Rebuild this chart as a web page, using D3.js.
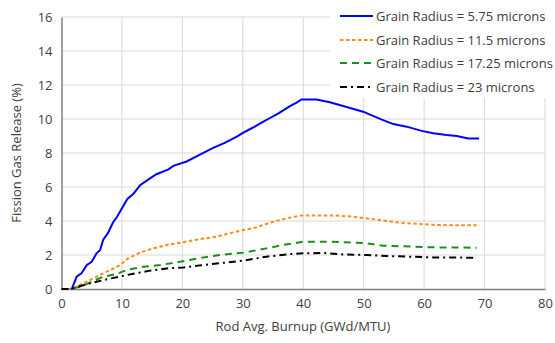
<!DOCTYPE html>
<html><head><meta charset="utf-8">
<script src="https://cdn.jsdelivr.net/npm/d3@7"></script>
<style>body{margin:0;background:#fff}svg{display:block}text{font-family:"Open Sans","Liberation Sans",sans-serif;fill:#404040}</style>
</head><body><svg id="c" width="555" height="343"></svg>
<script>
const seriesNames = ["Grain Radius = 5.75 microns","Grain Radius = 11.5 microns","Grain Radius = 17.25 microns","Grain Radius = 23 microns"];
const blue = [[0,0],[1.7,0],[2.5,0.72],[3.3,0.92],[4.2,1.41],[5,1.6],[5.8,2.1],[6.4,2.3],[6.9,2.9],[7.7,3.3],[8.5,3.9],[9.2,4.25],[10,4.75],[10.9,5.3],[11.9,5.6],[13,6.1],[14.4,6.45],[15.7,6.75],[17.7,7.04],[18.5,7.24],[20.7,7.5],[22.9,7.9],[25.1,8.3],[27,8.6],[29,8.96],[30.1,9.2],[31.7,9.5],[33.4,9.84],[34.2,10],[35.9,10.33],[37.8,10.76],[38.9,10.96],[39.7,11.15],[42.2,11.15],[44.4,10.98],[46.6,10.76],[49.9,10.43],[53,9.96],[54.9,9.7],[57.1,9.55],[59.6,9.3],[61.5,9.16],[63.7,9.06],[65.4,9.0],[67.3,8.86],[69.1,8.86]];
const orange = [[0,0],[1.5,0],[3.6,0.33],[5.3,0.63],[7.5,1.02],[9.7,1.41],[11,1.8],[13,2.14],[15.2,2.39],[17.4,2.59],[19.6,2.72],[22.9,2.93],[25.7,3.08],[28.4,3.33],[30.1,3.47],[32.3,3.63],[34.5,3.9],[37.3,4.16],[39.7,4.33],[45,4.33],[48.3,4.25],[52.7,4.06],[56,3.9],[59.3,3.82],[62.6,3.76],[66.5,3.75],[68.7,3.75]];
const green = [[0,0],[1.5,0],[3.6,0.2],[6.9,0.72],[9.1,0.88],[10.8,1.12],[13.5,1.31],[16.3,1.41],[19.6,1.6],[22.9,1.82],[26.2,2.0],[30.1,2.14],[33.9,2.39],[36.7,2.59],[40,2.78],[45,2.78],[50.5,2.69],[53.2,2.55],[58.2,2.49],[61.5,2.45],[68.7,2.43]];
const black = [[0,0],[1.5,0],[4.2,0.29],[7.5,0.57],[10.8,0.82],[14.6,1.08],[17.4,1.21],[20.2,1.27],[22.9,1.39],[30.1,1.67],[33.9,1.9],[37.3,2.04],[40,2.1],[43.3,2.12],[46.1,2.04],[50.5,2.0],[53.8,1.94],[57.7,1.9],[61.5,1.86],[68.7,1.84]];
const xTicks = [0,10,20,30,40,50,60,70,80];
const yTicks = [0,2,4,6,8,10,12,14,16];
const xLabel = "Rod Avg. Burnup (GWd/MTU)";
const yLabel = "Fission Gas Release (%)";

const svg = d3.select("#c");
const x = d3.scaleLinear().domain([0,80]).range([61.5,545]);
const y = d3.scaleLinear().domain([0,16]).range([289,17]);

// gridlines
svg.append("g").selectAll("line.v").data(xTicks.slice(1)).join("line")
  .attr("x1",d=>x(d)).attr("x2",d=>x(d)).attr("y1",y(0)).attr("y2",y(16))
  .attr("stroke","#d9d9d9").attr("stroke-width",1);
svg.append("g").selectAll("line.h").data(yTicks.slice(1)).join("line")
  .attr("x1",x(0)).attr("x2",x(80)).attr("y1",d=>y(d)).attr("y2",d=>y(d))
  .attr("stroke","#d9d9d9").attr("stroke-width",1);

// axes
const xa = svg.append("g").attr("transform",`translate(0,${y(0)})`)
  .call(d3.axisBottom(x).tickValues(xTicks).tickSize(0).tickPadding(10));
const ya = svg.append("g").attr("transform",`translate(${x(0)},0)`)
  .call(d3.axisLeft(y).tickValues(yTicks).tickSize(0).tickPadding(9));
[xa,ya].forEach(a=>{
  a.select(".domain").attr("stroke","#808080").attr("stroke-width",1.5);
  a.selectAll("text").attr("font-size",13).attr("font-family",'"Open Sans","Liberation Sans",sans-serif').attr("fill","#404040");
});

// lines
const line = d3.line().x(d=>x(d[0])).y(d=>y(d[1]));
const styles = [
  {data:blue,color:"#0000ff",dash:null,w:2},
  {data:orange,color:"#ff8c1a",dash:"3.5,2.5",w:2},
  {data:green,color:"#16911a",dash:"7,5",w:2},
  {data:black,color:"#000000",dash:"7,4,2,4",w:2}
];
// draw in reverse so blue on top at origin? black appears on top near origin
[styles[0],styles[1],styles[2],styles[3]].forEach(s=>{
  svg.append("path").datum(s.data).attr("d",line).attr("fill","none")
    .attr("stroke",s.color).attr("stroke-width",s.w)
    .attr("stroke-dasharray",s.dash);
});

// legend
const lg = svg.append("g");
lg.append("rect").attr("x",330).attr("y",0).attr("width",225).attr("height",98).attr("fill","#fff");
const rowsY = [16,40,63,87];
styles.forEach((s,i)=>{
  lg.append("line").attr("x1",340).attr("x2",373).attr("y1",rowsY[i]).attr("y2",rowsY[i])
    .attr("stroke",s.color).attr("stroke-width",2).attr("stroke-dasharray",s.dash);
  lg.append("text").attr("x",376).attr("y",rowsY[i]).attr("dy","0.35em")
    .attr("font-size",13).text(seriesNames[i]);
});

// axis titles
svg.append("text").attr("x",303).attr("y",331).attr("text-anchor","middle").attr("font-size",13).text(xLabel);
svg.append("text").attr("transform","translate(21,153) rotate(-90)").attr("text-anchor","middle").attr("font-size",13).text(yLabel);
</script></body></html>
